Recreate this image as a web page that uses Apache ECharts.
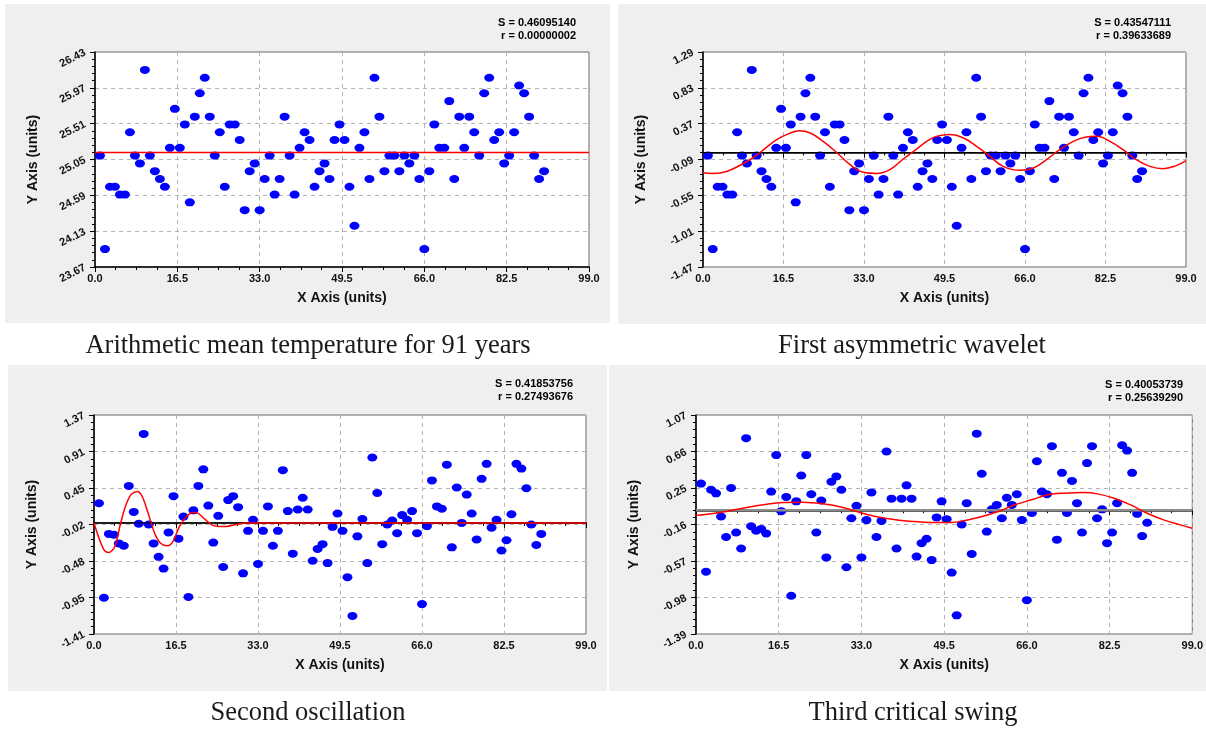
<!DOCTYPE html>
<html>
<head>
<meta charset="utf-8">
<script src="https://cdn.jsdelivr.net/npm/echarts@6/dist/echarts.min.js"></script>
<style>
  html, body { margin: 0; padding: 0; background: #fff; }
  #chart { width: 1206px; height: 730px; }
</style>
</head>
<body>
<div id="chart"></div>
<script>
// x 轴：年份序号
const years = [1,2,3,4,5,6,7,8,9,10,11,12,13,14,15,16,17,18,19,20,21,22,23,24,25,26,27,28,29,30,
  31,32,33,34,35,36,37,38,39,40,41,42,43,44,45,46,47,48,49,50,51,52,53,54,55,56,57,58,59,60,
  61,62,63,64,65,66,67,68,69,70,71,72,73,74,75,76,77,78,79,80,81,82,83,84,85,86,87,88,89,90];

// 年平均气温
const meanTemp = [25.1,23.9,24.7,24.7,24.6,24.6,25.4,25.1,25.0,26.2,
  25.1,24.9,24.8,24.7,25.2,25.7,25.2,25.5,24.5,25.6,
  25.9,26.1,25.6,25.1,25.4,24.7,25.5,25.5,25.3,24.4,
  24.9,25.0,24.4,24.8,25.1,24.6,24.8,25.6,25.1,24.6,
  25.2,25.4,25.3,24.7,24.9,25.0,24.8,25.3,25.5,25.3,
  24.7,24.2,25.2,25.4,24.8,26.1,25.6,24.9,25.1,25.1,
  24.9,25.1,25.0,25.1,24.8,23.9,24.9,25.5,25.2,25.2,
  25.8,24.8,25.6,25.2,25.6,25.4,25.1,25.9,26.1,25.3,
  25.4,25.0,25.1,25.4,26.0,25.9,25.6,25.1,24.8,24.9];

// 距平
const anomaly = [-0.04,-1.24,-0.44,-0.44,-0.54,-0.54,0.26,-0.04,-0.14,1.06,
  -0.04,-0.24,-0.34,-0.44,0.06,0.56,0.06,0.36,-0.64,0.46,
  0.76,0.96,0.46,-0.04,0.26,-0.44,0.36,0.36,0.16,-0.74,
  -0.24,-0.14,-0.74,-0.34,-0.04,-0.54,-0.34,0.46,-0.04,-0.54,
  0.06,0.26,0.16,-0.44,-0.24,-0.14,-0.34,0.16,0.36,0.16,
  -0.44,-0.94,0.06,0.26,-0.34,0.96,0.46,-0.24,-0.04,-0.04,
  -0.24,-0.04,-0.14,-0.04,-0.34,-1.24,-0.24,0.36,0.06,0.06,
  0.66,-0.34,0.46,0.06,0.46,0.26,-0.04,0.76,0.96,0.16,
  0.26,-0.14,-0.04,0.26,0.86,0.76,0.46,-0.04,-0.34,-0.24];

// 去掉第一个小波后的残差
const resid2 = [0.25,-0.95,-0.14,-0.15,-0.26,-0.29,0.47,0.14,-0.01,1.13,
  -0.02,-0.26,-0.43,-0.58,-0.12,0.34,-0.20,0.08,-0.94,0.16,
  0.47,0.68,0.22,-0.25,0.09,-0.56,0.29,0.34,0.20,-0.64,
  -0.10,0.04,-0.52,-0.10,0.21,-0.29,-0.10,0.67,0.15,-0.39,
  0.17,0.32,0.17,-0.48,-0.33,-0.27,-0.51,-0.05,0.12,-0.10,
  -0.69,-1.18,-0.17,0.05,-0.51,0.83,0.38,-0.27,-0.02,0.03,
  -0.13,0.10,0.04,0.15,-0.13,-1.03,-0.04,0.54,0.21,0.18,
  0.74,-0.31,0.45,0.00,0.36,0.12,-0.21,0.56,0.75,-0.06,
  0.04,-0.35,-0.22,0.11,0.75,0.69,0.44,-0.02,-0.28,-0.14];

// 去掉第二个振荡后的残差
const resid3 = [0.30,-0.69,0.23,0.19,-0.07,-0.30,0.25,-0.25,-0.43,0.81,
  -0.18,-0.23,-0.21,-0.26,0.21,0.62,-0.01,0.15,-0.96,0.10,
  0.39,0.62,0.18,-0.25,0.11,-0.53,0.32,0.38,0.23,-0.64,
  -0.09,0.05,-0.53,-0.11,0.20,-0.30,-0.12,0.66,0.13,-0.43,
  0.13,0.28,0.13,-0.52,-0.37,-0.32,-0.56,-0.08,0.10,-0.10,
  -0.70,-1.18,-0.16,0.08,-0.49,0.86,0.41,-0.24,0.01,0.06,
  -0.09,0.14,0.06,0.18,-0.11,-1.01,-0.03,0.55,0.21,0.18,
  0.72,-0.33,0.42,-0.03,0.33,0.08,-0.25,0.53,0.72,-0.09,
  0.01,-0.37,-0.25,0.08,0.73,0.67,0.42,-0.04,-0.29,-0.14];

// 拟合曲线 [x, y]
const meanLine = [[0, 25.14], [99, 25.14]];
const zeroLine = [[0, 0], [99, 0]];
const wave1 = [[0,-0.26],[2,-0.27],[5,-0.24],[9.7,-0.09],[11.7,0],[15.1,0.165],[17.9,0.25],[19.7,0.28],
  [22,0.25],[24.7,0.14],[27.4,0],[30.2,-0.16],[32.9,-0.255],[35.6,-0.27],[38.3,-0.22],[41.1,-0.08],
  [43.5,0.03],[46,0.15],[48,0.21],[50.6,0.23],[53.4,0.186],[56.1,0.079],[58.8,-0.049],[61.5,-0.178],
  [65,-0.229],[67.7,-0.199],[70.4,-0.092],[73.1,0.036],[75.9,0.143],[78.3,0.195],[80.7,0.207],
  [83.4,0.143],[86.1,0.036],[88.8,-0.092],[91.6,-0.178],[94.3,-0.208],[97,-0.169],[99,-0.105]];
const wave2 = [[0,0],[1.1,-0.21],[2.1,-0.35],[3,-0.375],[4.2,-0.3],[5.2,-0.045],[6.2,0.187],[7.4,0.356],
  [8.7,0.398],[9.7,0.335],[10.9,0.124],[12.2,-0.13],[13.4,-0.257],[14.8,-0.29],[15.9,-0.235],
  [17.2,-0.045],[18.6,0.081],[19.9,0.132],[20.9,0.124],[22.3,0.048],[23.9,-0.032],[25.3,-0.045],
  [26.6,-0.045],[28.6,-0.02],[30.7,0],[99,0]];
const wave3 = [[0,-0.059],[4.8,-0.025],[9.4,0.023],[13.4,0.061],[17.4,0.087],[21.3,0.09],[25.3,0.072],
  [29.3,0.031],[33.2,-0.033],[37.2,-0.085],[41,-0.115],[44.4,-0.13],[47.8,-0.137],[51,-0.137],
  [53.7,-0.115],[57,-0.07],[60.3,-0.014],[63.6,0.061],[66.9,0.117],[70.2,0.173],[73.5,0.192],
  [77.5,0.199],[80.1,0.184],[83.4,0.135],[86.7,0.061],[90,-0.033],[93.3,-0.108],[96.6,-0.164],[99,-0.201]];

// 刻度标签
const xLabels = ['0.0','16.5','33.0','49.5','66.0','82.5','99.0'];
const yLabels1 = ['23.67','24.13','24.59','25.05','25.51','25.97','26.43'];
const yLabels2 = ['-1.47','-1.01','-0.55','-0.09','0.37','0.83','1.29'];
const yLabels3 = ['-1.41','-0.95','-0.48','-0.02','0.45','0.91','1.37'];
const yLabels4 = ['-1.39','-0.98','-0.57','-0.16','0.25','0.66','1.07'];

const stats = [
  ['S = 0.46095140', 'r = 0.00000002'],
  ['S = 0.43547111', 'r = 0.39633689'],
  ['S = 0.41853756', 'r = 0.27493676'],
  ['S = 0.40053739', 'r = 0.25639290']
];
const captions = ['Arithmetic mean temperature for 91 years', 'First asymmetric wavelet',
  'Second oscillation', 'Third critical swing'];

const panels = [
  { box: [5, 4, 605, 319], grid: { left: 95, top: 52, width: 494, height: 215 },
    yr: [23.67, 26.43], yl: yLabels1, pts: meanTemp,
    fits: [{ data: meanLine, color: '#ff0000', width: 1.5 }],
    statPos: [576, 23], capPos: [308, 346] },
  { box: [618, 4, 588, 320], grid: { left: 703, top: 52, width: 483, height: 215 },
    yr: [-1.47, 1.29], yl: yLabels2, pts: anomaly,
    fits: [{ data: zeroLine, color: '#000', width: 1 }, { data: wave1, color: '#ff0000', width: 1.5, smooth: 0.4 }],
    statPos: [1171, 23], capPos: [912, 346] },
  { box: [8, 365, 599, 326], grid: { left: 94, top: 415, width: 492, height: 219 },
    yr: [-1.41, 1.37], yl: yLabels3, pts: resid2,
    fits: [{ data: zeroLine, color: '#000', width: 1 }, { data: wave2, color: '#ff0000', width: 1.5, smooth: 0.3 }],
    statPos: [573, 384], capPos: [308, 713] },
  { box: [609, 365, 597, 326], grid: { left: 696, top: 415, width: 500, height: 219 },
    yr: [-1.39, 1.07], yl: yLabels4, pts: resid3,
    fits: [{ data: zeroLine, color: '#8c8c8c', width: 2.5 }, { data: wave3, color: '#ff0000', width: 1.5, smooth: 0.4 }],
    statPos: [1183, 385], capPos: [913, 713] }
];

const LBL = 'bold 11px "Liberation Sans", Arial, sans-serif';
const grids = [], xAxes = [], yAxes = [], series = [], graphics = [];

panels.forEach((p, i) => {
  graphics.push({ type: 'rect', z: -10, shape: { x: p.box[0], y: p.box[1], width: p.box[2], height: p.box[3] },
    style: { fill: '#efefef' } });
  graphics.push({ type: 'text', x: p.statPos[0], y: p.statPos[1],
    style: { text: stats[i][0], font: LBL, fill: '#000', textAlign: 'right', textVerticalAlign: 'middle' } });
  graphics.push({ type: 'text', x: p.statPos[0], y: p.statPos[1] + 13,
    style: { text: stats[i][1], font: LBL, fill: '#000', textAlign: 'right', textVerticalAlign: 'middle' } });
  graphics.push({ type: 'text', x: p.capPos[0], y: p.capPos[1],
    style: { text: captions[i], font: '26.5px "Liberation Serif", "Times New Roman", serif', fill: '#1a1a1a',
      textAlign: 'center', textVerticalAlign: 'middle' } });

  grids.push(Object.assign({ show: true, backgroundColor: '#fff', borderColor: '#666', borderWidth: 1 }, p.grid));

  xAxes.push({
    gridIndex: i, type: 'value', min: 0, max: 99, interval: 16.5,
    name: 'X Axis (units)', nameLocation: 'middle', nameGap: 24,
    nameTextStyle: { fontFamily: 'Liberation Sans', fontWeight: 'bold', fontSize: 14, color: '#111' },
    axisLine: { lineStyle: { color: '#000', width: 1.5 } },
    axisTick: { length: 5, lineStyle: { color: '#000' } },
    minorTick: { show: true, splitNumber: 4, length: 3, lineStyle: { color: '#000' } },
    splitLine: { show: true, lineStyle: { color: '#b4b4b4', type: [4, 4] } },
    axisLabel: { fontFamily: 'Liberation Sans', fontWeight: 'bold', fontSize: 11, color: '#111', margin: 6,
      formatter: (v) => xLabels[Math.round(v / 16.5)] || '' }
  });

  const step = (p.yr[1] - p.yr[0]) / 6;
  yAxes.push({
    gridIndex: i, type: 'value', min: p.yr[0], max: p.yr[1], interval: step,
    name: 'Y Axis (units)', nameLocation: 'middle', nameGap: 55,
    nameTextStyle: { fontFamily: 'Liberation Sans', fontWeight: 'bold', fontSize: 14, color: '#111' },
    axisLine: { onZero: false, lineStyle: { color: '#000', width: 1.5 } },
    axisTick: { length: 5, lineStyle: { color: '#000' } },
    minorTick: { show: true, splitNumber: 5, length: 3, lineStyle: { color: '#000' } },
    splitLine: { show: true, lineStyle: { color: '#b4b4b4', type: [4, 4] } },
    axisLabel: { fontFamily: 'Liberation Sans', fontWeight: 'bold', fontSize: 11, color: '#111', rotate: 27, margin: 10,
      formatter: (v) => p.yl[Math.round((v - p.yr[0]) / step)] || '' }
  });

  series.push({
    type: 'scatter', xAxisIndex: i, yAxisIndex: i, z: 2,
    symbol: 'circle', symbolSize: [10, 8],
    itemStyle: { color: '#0000ff', opacity: 1 },
    data: years.map((x, k) => [x, p.pts[k]])
  });
  p.fits.forEach((f) => {
    series.push({
      type: 'line', xAxisIndex: i, yAxisIndex: i, z: 3,
      showSymbol: false, smooth: f.smooth || false, silent: true,
      lineStyle: { color: f.color, width: f.width },
      data: f.data
    });
  });
});

const chart = echarts.init(document.getElementById('chart'));
chart.setOption({
  animation: false,
  backgroundColor: '#fff',
  grid: grids,
  xAxis: xAxes,
  yAxis: yAxes,
  series: series,
  graphic: graphics
});
</script>
</body>
</html>
